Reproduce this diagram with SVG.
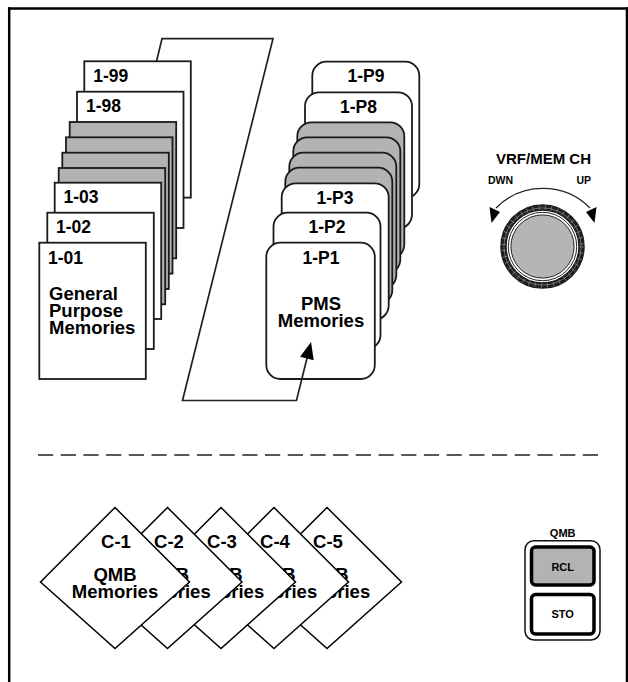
<svg xmlns="http://www.w3.org/2000/svg" width="628" height="682" viewBox="0 0 628 682">
<defs>
<style>
.card{fill:#fff;stroke:#1a1a1a;stroke-width:1.8}
.gray{fill:#b3b3b3;stroke:#1a1a1a;stroke-width:1.8}
.lbl{font-family:"Liberation Sans",Arial,sans-serif;font-weight:bold;font-size:17.5px;fill:#000}
.body{font-family:"Liberation Sans",Arial,sans-serif;font-weight:bold;font-size:18.5px;fill:#000}
.small{font-family:"Liberation Sans",Arial,sans-serif;font-weight:bold;fill:#000}
.mid{text-anchor:middle}
.dia{fill:#fff;stroke:#000;stroke-width:1.5}
.conn{fill:none;stroke:#222;stroke-width:1.7;stroke-linejoin:miter}
</style>
<marker id="arr" viewBox="-1 -8 19 16" markerWidth="19" markerHeight="16" refX="9" refY="0" orient="auto" markerUnits="userSpaceOnUse">
<path d="M0,-7 L17,0 L0,7 z" fill="#000"/>
</marker>
</defs>
<rect x="0" y="0" width="628" height="682" fill="#fff"/>
<g id="frame" stroke="#000" stroke-width="2.5" fill="none">
<line x1="8" y1="8.5" x2="628" y2="8.5"/>
<line x1="9.2" y1="7.3" x2="9.2" y2="682"/>
<line x1="627" y1="7.3" x2="627" y2="682"/>
</g>
<g id="general-memories">
<g id="gm-1-99"><rect class="card" x="84.3" y="61.3" width="106.5" height="136.3"/><text class="lbl" x="93.3" y="81.7">1-99</text></g>
<g id="gm-1-98"><rect class="card" x="77" y="91.7" width="106.5" height="136.3"/><text class="lbl" x="86" y="112">1-98</text></g>
<rect class="gray" x="69.7" y="122" width="106.5" height="136.3"/>
<rect class="gray" x="66" y="137.3" width="106.5" height="136.3"/>
<rect class="gray" x="62.3" y="152.7" width="106.5" height="136.3"/>
<rect class="gray" x="58.7" y="168" width="106.5" height="136.3"/>
<g id="gm-1-03"><rect class="card" x="54.7" y="182.7" width="106.5" height="136.3"/><text class="lbl" x="63.5" y="203">1-03</text></g>
<g id="gm-1-02"><rect class="card" x="47.3" y="212.7" width="106.5" height="136.3"/><text class="lbl" x="56" y="233">1-02</text></g>
<g id="gm-1-01"><rect class="card" x="39.3" y="242.7" width="106.5" height="136.3"/><text class="lbl" x="48" y="264">1-01</text>
<text class="body" x="49" y="300">General</text><text class="body" x="49" y="317">Purpose</text><text class="body" x="49" y="334">Memories</text></g>
</g>
<g id="pms-memories">
<g id="pms-1-P9"><rect class="card" x="312.3" y="61.7" width="107" height="136.3" rx="14"/><text class="lbl mid" x="366" y="82">1-P9</text></g>
<g id="pms-1-P8"><rect class="card" x="305" y="92.3" width="107" height="136.3" rx="14"/><text class="lbl mid" x="358.5" y="112.5">1-P8</text></g>
<rect class="gray" x="297.3" y="122.3" width="107" height="136.3" rx="14"/>
<rect class="gray" x="293.3" y="137.3" width="107" height="136.3" rx="14"/>
<rect class="gray" x="289.3" y="152.7" width="107" height="136.3" rx="14"/>
<rect class="gray" x="285.3" y="167.7" width="107" height="136.3" rx="14"/>
<g id="pms-1-P3"><rect class="card" x="281.7" y="183.3" width="107" height="136.3" rx="14"/><text class="lbl mid" x="335" y="203.5">1-P3</text></g>
<g id="pms-1-P2"><rect class="card" x="273.5" y="212.7" width="107" height="136.3" rx="14"/><text class="lbl mid" x="327" y="233">1-P2</text></g>
<g id="pms-1-P1"><rect class="card" x="266.3" y="242.7" width="108.5" height="136.3" rx="14"/><text class="lbl mid" x="321" y="263.5">1-P1</text>
<text class="body mid" x="321" y="310">PMS</text><text class="body mid" x="321" y="327">Memories</text></g>
</g>
<g id="connectors">
<polyline class="conn" points="156.6,61 162,38.7 273,38.7 182.5,400.5 296.5,400.5 309.1,349.8" marker-end="url(#arr)"/>
</g>
<g id="vrf-knob">
<text class="small mid" x="543.5" y="164.3" font-size="15">VRF/MEM CH</text>
<text class="small" x="488" y="184.3" font-size="10.5">DWN</text>
<text class="small" x="591" y="184.3" font-size="10.5" text-anchor="end">UP</text>
<path d="M496,208 A66 66 0 0 1 590,208" fill="none" stroke="#222" stroke-width="1.3"/>
<polygon points="489.5,207 500,212 491.5,223" fill="#000"/>
<polygon points="596.5,207 586,212 594.5,223" fill="#000"/>
<circle cx="542.5" cy="246.5" r="39" fill="none" stroke="#1e1e1e" stroke-width="6.5"/>
<circle cx="542.5" cy="246.5" r="39" fill="none" stroke="#8c8c8c" stroke-width="4.5" stroke-dasharray="0.7 5.5"/>
<circle cx="542.5" cy="246.5" r="38.6" fill="none" stroke="#8c8c8c" stroke-width="0.7"/>
<circle cx="542.5" cy="246.5" r="35.3" fill="#fff" stroke="none"/>
<circle cx="542.5" cy="246.5" r="34.2" fill="#fff" stroke="#222" stroke-width="1"/>
<circle cx="542.5" cy="246.5" r="31.6" fill="#b5b5b5" stroke="#222" stroke-width="1"/>
</g>
<line id="separator" x1="38" y1="455" x2="598" y2="455" stroke="#222" stroke-width="1.6" stroke-dasharray="15.2 7.5"/>
<g id="qmb-memories">
<g id="qmb-C-5"><polygon class="dia" points="327,507.5 401.5,582 327,648.5 252.5,582"/><text class="body mid" x="328" y="548">C-5</text><text class="body mid" x="327" y="581">QMB</text><text class="body mid" x="327" y="598">Memories</text></g>
<g id="qmb-C-4"><polygon class="dia" points="274,507.5 348.5,582 274,648.5 199.5,582"/><text class="body mid" x="275" y="548">C-4</text><text class="body mid" x="274" y="581">QMB</text><text class="body mid" x="274" y="598">Memories</text></g>
<g id="qmb-C-3"><polygon class="dia" points="221,507.5 295.5,582 221,648.5 146.5,582"/><text class="body mid" x="222" y="548">C-3</text><text class="body mid" x="221" y="581">QMB</text><text class="body mid" x="221" y="598">Memories</text></g>
<g id="qmb-C-2"><polygon class="dia" points="167.5,507.5 242,582 167.5,648.5 93,582"/><text class="body mid" x="169" y="548">C-2</text><text class="body mid" x="167.5" y="581">QMB</text><text class="body mid" x="167.5" y="598">Memories</text></g>
<g id="qmb-C-1"><polygon class="dia" points="115,507.5 189.5,582 115,648.5 40.5,582"/><text class="body mid" x="116" y="548">C-1</text><text class="body mid" x="115" y="581">QMB</text><text class="body mid" x="115" y="598">Memories</text></g>
</g>
<g id="qmb-panel">
<text class="small mid" x="562.7" y="537" font-size="11">QMB</text>
<rect x="525" y="540.7" width="75" height="99.3" rx="9" fill="#fff" stroke="#111" stroke-width="1.5"/>
<g id="qmb-rcl"><rect x="531.5" y="547" width="62.5" height="38" rx="4" fill="#b3b3b3" stroke="#000" stroke-width="3.5"/><text class="small mid" x="562.7" y="570.5" font-size="11">RCL</text></g>
<g id="qmb-sto"><rect x="531.5" y="594.5" width="62.5" height="39.5" rx="4" fill="#fff" stroke="#000" stroke-width="3.5"/><text class="small mid" x="562.7" y="618" font-size="11">STO</text></g>
</g>
</svg>
